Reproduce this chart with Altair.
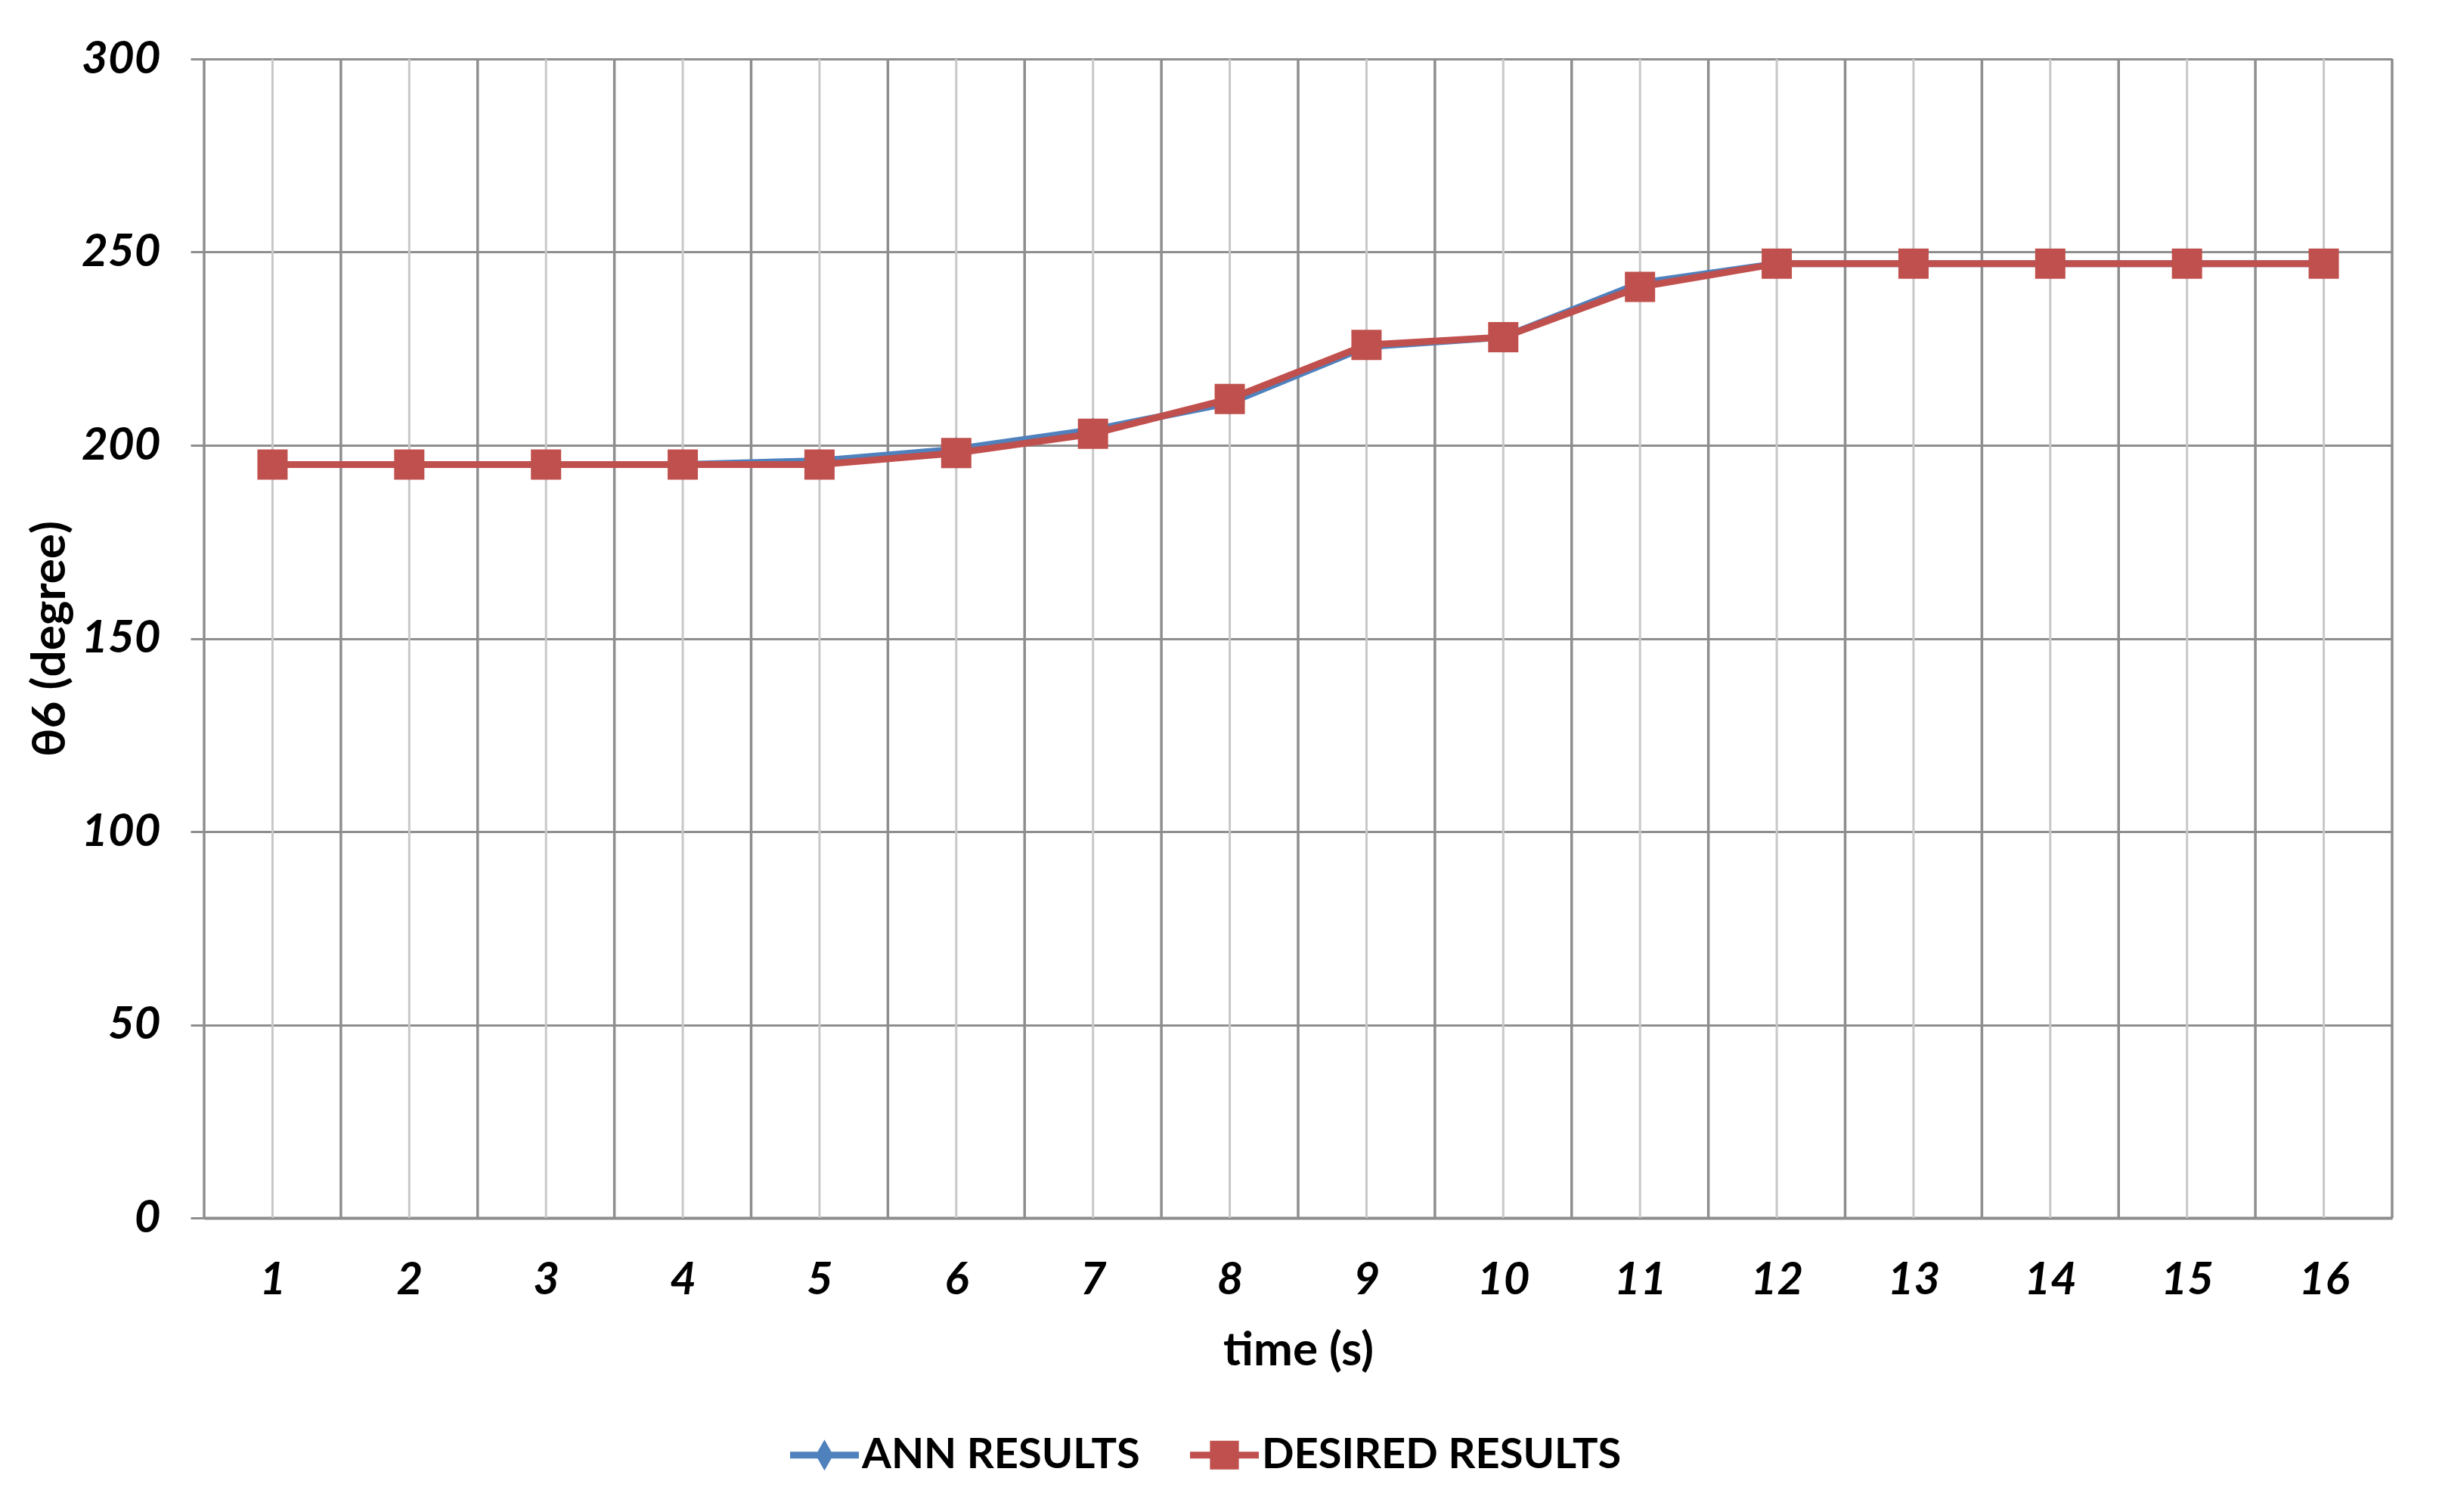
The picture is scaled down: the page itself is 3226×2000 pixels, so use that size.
import altair as alt
import pandas as pd

# ---- data ----
time_s = list(range(1, 17))
ann_results = [195, 195, 195, 195, 196, 199, 204, 211, 225.5, 228, 242, 247, 247, 247, 247, 247]
desired_results = [195, 195, 195, 195, 195, 198, 203, 212, 226, 228, 241, 247, 247, 247, 247, 247]
series_names = ["ANN RESULTS", "DESIRED RESULTS"]
series_colors = ["#4f81bd", "#c0504d"]
y_ticks = [0, 50, 100, 150, 200, 250, 300]

df = pd.DataFrame({
    "time": time_s + time_s,
    "value": ann_results + desired_results,
    "series": [series_names[0]] * len(time_s) + [series_names[1]] * len(time_s),
})
centers = pd.DataFrame({"c": time_s})
bounds = pd.DataFrame({"b": [t - 0.5 for t in time_s] + [time_s[-1] + 0.5]})

W, H = 2894, 1533
FONT = "Lato"
DARK = "#8e8e8e"
LIGHT = "#c8c8c8"

xscale = alt.Scale(domain=[0.5, 16.5], nice=False, zero=False)
yscale = alt.Scale(domain=[0, 300], nice=False, zero=True)

xaxis = alt.Axis(
    values=time_s, format="d", grid=False, ticks=True, tickSize=0,
    labelPadding=82, labelBaseline="middle",
    labelFont=FONT, labelFontSize=60, labelFontWeight="bold", labelFontStyle="italic",
    labelColor="black", domainColor=DARK, domainWidth=4,
    title="time (s)", titleFont=FONT, titleFontSize=62, titleFontWeight="bold",
    titleColor="black", titleY=175, titleBaseline="middle",
)
yaxis = alt.Axis(
    values=y_ticks, grid=True, gridColor=DARK, gridWidth=3, gridOpacity=1,
    domain=False, ticks=True, tickColor=DARK, tickWidth=3, tickSize=18,
    labelPadding=40, labelBaseline="middle",
    labelFont=FONT, labelFontSize=60, labelFontWeight="bold", labelFontStyle="italic",
    labelColor="black",
    title="θ6 (degree)", titleFont=FONT, titleFontSize=62, titleFontWeight="bold",
    titleColor="black", titleX=-204, titleY=H / 2, titleAngle=270,
    titleBaseline="middle", titleAlign="center",
)

# legend symbols: line + marker
diamond_line = ("M-1,-0.1L-0.2,-0.1L0,-0.45L0.2,-0.1L1,-0.1L1,0.1L0.2,0.1"
                "L0,0.45L-0.2,0.1L-1,0.1Z")
square_line = ("M-1,-0.1L-0.42,-0.1L-0.42,-0.42L0.42,-0.42L0.42,-0.1L1,-0.1L1,0.1"
               "L0.42,0.1L0.42,0.42L-0.42,0.42L-0.42,0.1L-1,0.1Z")

legend = alt.Legend(
    orient="none", legendX=775, legendY=1801, direction="horizontal", title=None,
    labelFont=FONT, labelFontSize=56, labelFontWeight="bold", labelColor="black",
    labelOffset=4, columnPadding=66, padding=0, symbolSize=8281, labelLimit=2000,
    symbolOpacity=1, symbolStrokeWidth=0, labelBaseline="middle",
)

X = alt.X("time:Q", scale=xscale, axis=xaxis)
Y = alt.Y("value:Q", scale=yscale, axis=yaxis)

legend_layer = alt.Chart(df).mark_point(filled=True, opacity=0, size=10).encode(
    x=X, y=Y,
    color=alt.Color("series:N", scale=alt.Scale(domain=series_names, range=series_colors), legend=legend),
    shape=alt.Shape("series:N", scale=alt.Scale(domain=series_names, range=[diamond_line, square_line]), legend=legend),
)

light_rules = alt.Chart(centers).mark_rule(color=LIGHT, strokeWidth=3).encode(
    x=alt.X("c:Q", scale=xscale, axis=xaxis)
)
dark_rules = alt.Chart(bounds).mark_rule(color=DARK, strokeWidth=3.5).encode(
    x=alt.X("b:Q", scale=xscale, axis=xaxis)
)


def series_layers(name, color, shape, size):
    base = alt.Chart(df).transform_filter(alt.datum.series == name)
    line = base.mark_line(color=color, strokeWidth=9, strokeJoin="round", strokeCap="round").encode(x=X, y=Y)
    pts = base.mark_point(shape=shape, filled=True, color=color, opacity=1, size=size).encode(x=X, y=Y)
    return [line, pts]


layers = [light_rules, dark_rules, legend_layer]
layers += series_layers(series_names[0], series_colors[0], "diamond", 1000)
layers += series_layers(series_names[1], series_colors[1], "square", 1600)

chart = alt.layer(*layers).properties(
    width=W, height=H,
    padding={"left": 262, "top": 70, "right": 54, "bottom": 381},
    autosize=alt.AutoSizeParams(type="none"),
    background="white",
).configure_view(stroke=None)

chart.save("out.html", embed_options={"renderer": "svg", "actions": False})
